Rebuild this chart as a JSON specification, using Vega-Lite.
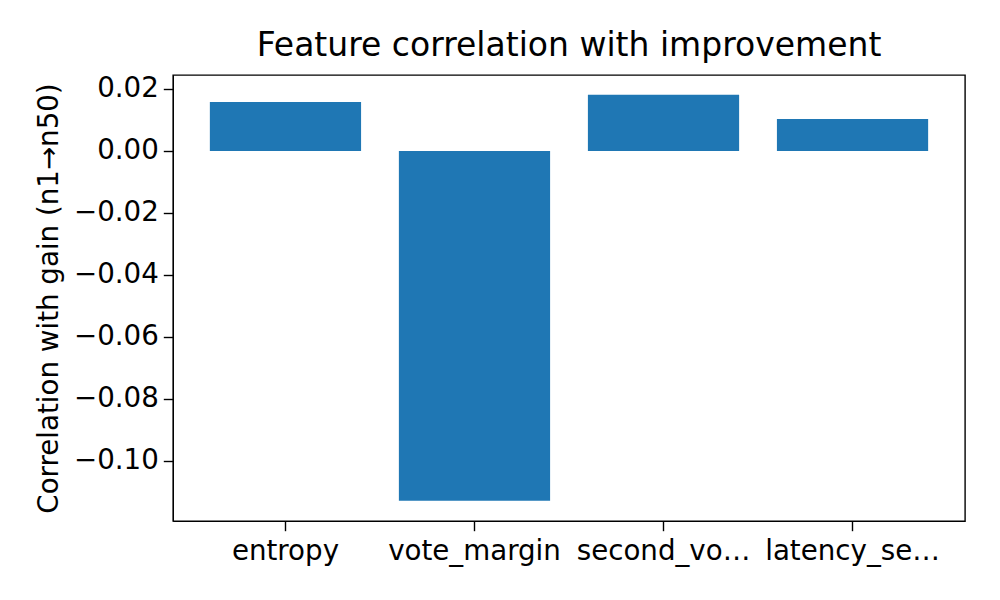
{
"$schema":"https://vega.github.io/schema/vega-lite/v6.json",
"width":792,"height":446,
"autosize":{"type":"none"},
"padding":{"left":173,"top":75,"right":35,"bottom":79},
"background":"white",
"title":{"text":"Feature correlation with improvement","font":"DejaVu Sans","fontSize":33,"fontWeight":"normal","color":"black","offset":12},
"data":{"values":[
{"feature":"entropy","corr":0.0158},
{"feature":"vote_margin","corr":-0.1129},
{"feature":"second_vote_ratio","corr":0.0181},
{"feature":"latency_seconds","corr":0.0103}
]},
"mark":{"type":"bar","color":"#1f77b4"},
"encoding":{
"x":{"field":"feature","type":"nominal","sort":null,"title":null,
"scale":{"paddingInner":0.2,"paddingOuter":0.195},
"axis":{"labelAngle":0,"labelFont":"DejaVu Sans","labelFontSize":27.7,"labelColor":"black","labelOverlap":false,"tickColor":"black","tickSize":9.7,"tickWidth":1.4,"domainColor":"black","labelPadding":7}},
"y":{"field":"corr","type":"quantitative","title":"Correlation with gain (n1→n50)",
"scale":{"domain":[-0.1194,0.0245],"nice":false,"zero":false},
"axis":{"values":[-0.10,-0.08,-0.06,-0.04,-0.02,0,0.02],"format":".2f","grid":false,"labelFont":"DejaVu Sans","labelFontSize":27.7,"labelColor":"black","titleFont":"DejaVu Sans","titleFontSize":27.7,"titleFontWeight":"normal","titleColor":"black","tickColor":"black","tickSize":9.7,"tickWidth":1.4,"domainColor":"black","labelPadding":5,"titlePadding":10,"labelExpr":"replace(datum.label,'-','−')"}}
},
"config":{"view":{"stroke":"black","strokeWidth":1.4}}
}
